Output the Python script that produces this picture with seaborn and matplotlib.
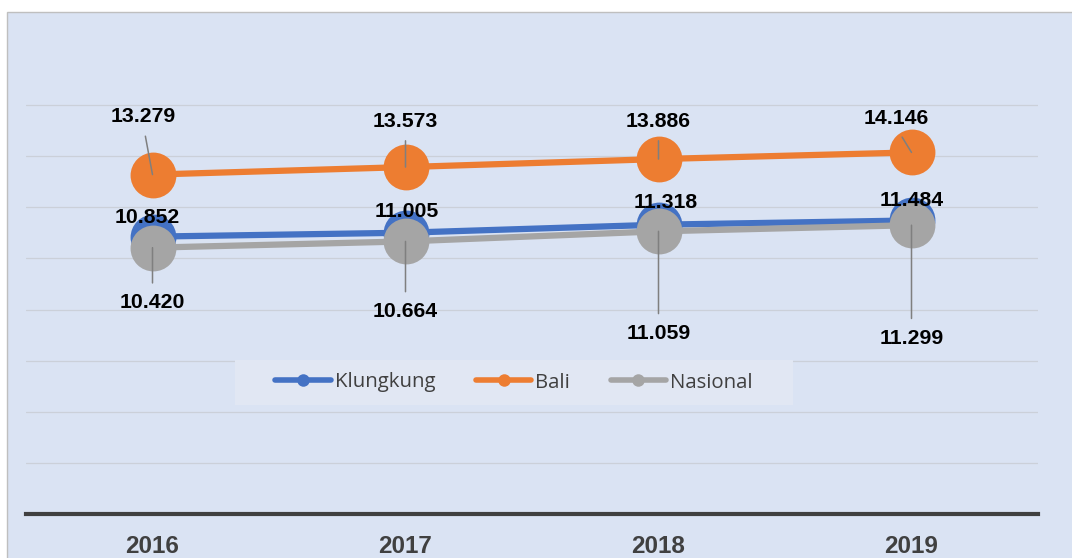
import numpy as np
import pandas as pd
import matplotlib
matplotlib.use("Agg")
import matplotlib.pyplot as plt
from matplotlib.lines import Line2D
from matplotlib.patches import Rectangle
import seaborn as sns

# ---- data -------------------------------------------------------------
years = ["2016", "2017", "2018", "2019"]
klungkung = [10.852, 11.005, 11.318, 11.484]
bali = [13.279, 13.573, 13.886, 14.146]
nasional = [10.420, 10.664, 11.059, 11.299]
series_names = ["Klungkung", "Bali", "Nasional"]

# ---- styling ----------------------------------------------------------
colors = {"Klungkung": "#4472C4", "Bali": "#ED7D31", "Nasional": "#A5A5A5"}
# label placement relative to each point, in pixels
label_offsets = {
    "Klungkung": [(-5, 19), (1, 21), (7, 22), (0, 20)],
    "Bali": [(-9, 58), (0, 46), (0, 38), (-15, 34)],
    "Nasional": [(0, -55), (0, -70), (0, -102), (0, -113)],
}
leader_relpos = {"Bali": (0.5, 0.0), "Nasional": (0.5, 1.0)}

sns.set_style("white")
plt.rcParams["font.family"] = ["Liberation Sans", "DejaVu Sans"]

values = {"Klungkung": klungkung, "Bali": bali, "Nasional": nasional}
df = pd.DataFrame({
    "Tahun": years * len(series_names),
    "Nilai": klungkung + bali + nasional,
    "Wilayah": [n for n in series_names for _ in years],
})
df["pos"] = df["Tahun"].map({y: i for i, y in enumerate(years)})

W, H = 1072, 558
fig = plt.figure(figsize=(W / 100, H / 100), dpi=100)
fig.patch.set_facecolor("white")
fig.patches.append(Rectangle((7 / W, -0.02), 1.0, 1 - 12 / H + 0.02,
                             transform=fig.transFigure, facecolor="#DAE3F3",
                             edgecolor="#BFBFBF", lw=1, zorder=-1))

ymax = 16.2
px_per_unit = 25.56
ax_top_px = 514 - ymax * px_per_unit
ax = fig.add_axes([26 / W, (H - 514) / H, 1012 / W, (514 - ax_top_px) / H])
ax.set_facecolor("none")

sns.lineplot(data=df, x="pos", y="Nilai", hue="Wilayah", hue_order=series_names,
             palette=colors, marker="o", markersize=33, markeredgewidth=0,
             linewidth=4.5, legend=False, sort=False, ax=ax)

for line in ax.lines:
    c = matplotlib.colors.to_hex(line.get_color()).upper()
    line.set_solid_capstyle("butt")
    line.set_zorder(4 if c == colors["Nasional"] else 3)

# data labels
for name in series_names:
    for i, v in enumerate(values[name]):
        dx, dy = label_offsets[name][i]
        kw = {}
        if name in leader_relpos:
            kw["arrowprops"] = dict(arrowstyle="-", color="#7F7F7F", lw=1.1,
                                    shrinkA=5, shrinkB=0,
                                    relpos=leader_relpos[name])
        ax.annotate(f"{v:.3f}", xy=(i, v), xytext=(dx, dy),
                    textcoords="offset pixels", ha="center", va="center",
                    fontsize=15.3, fontweight="bold", color="black",
                    zorder=6, **kw)

# axes
ax.set_xlim(-0.5, len(years) - 0.5)
ax.set_ylim(0, ymax)
ax.set_yticks(np.arange(0, 17, 2))
ax.set_yticklabels([])
ax.yaxis.grid(True, color="#CBD0D9", lw=0.9)
ax.set_axisbelow(True)
ax.set_xticks(range(len(years)))
ax.set_xticklabels(years, fontsize=17.5, fontweight="bold", color="#404040")
ax.tick_params(axis="both", length=0)
ax.tick_params(axis="x", pad=15)
ax.set_xlabel("")
ax.set_ylabel("")
for s in ["left", "right", "top"]:
    ax.spines[s].set_visible(False)
ax.spines["bottom"].set_color("#404040")
ax.spines["bottom"].set_linewidth(3)

# legend
bg = Rectangle((235 / W, 1 - 405 / H), 558 / W, 45 / H, transform=fig.transFigure,
               facecolor="#E1E7F3", edgecolor="none", zorder=8)
ax.add_patch(bg)
handles = [Line2D([0], [0], color=colors[n], lw=4, marker="o", markersize=9,
                  markeredgewidth=0, solid_capstyle="round") for n in series_names]
leg = ax.legend(handles, series_names, loc="center",
                bbox_to_anchor=(514 / W, 1 - 382.5 / H), bbox_transform=fig.transFigure,
                ncol=3, frameon=False, prop={"family": "Open Sans", "size": 14.7},
                handlelength=2.7, handletextpad=0.2, columnspacing=2.0,
                labelcolor="#404040")
leg.set_zorder(10)

fig.savefig("out.png", dpi=100)
